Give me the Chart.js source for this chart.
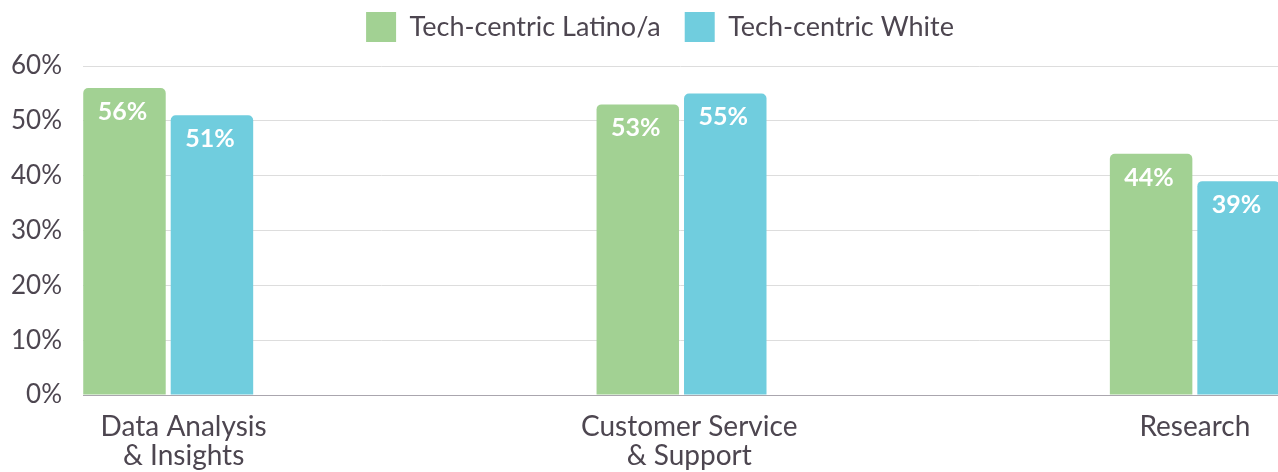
<!DOCTYPE html>
<html>
<head>
<meta charset="utf-8">
<script src="https://cdn.jsdelivr.net/npm/chart.js@4"></script>
<style>
  html, body { margin: 0; padding: 0; background: #fff; }
  #chart-outer { position: relative; width: 1278px; height: 472px; }
</style>
</head>
<body>
<div id="chart-outer"><canvas id="chart-area"></canvas></div>
<script>
const categories = [['Data Analysis', '& Insights'], ['Customer Service', '& Support'], ['Research']];
const latinoValues = [56, 53, 44];
const whiteValues = [51, 55, 39];
const seriesNames = ['Tech-centric Latino/a', 'Tech-centric White'];
const yTicks = [0, 10, 20, 30, 40, 50, 60];

const textColor = '#4d4650';
const fontFamily = 'Lato, "Noto Sans", sans-serif';

function toPoints(values){ // 선형 x축용 포인트
	return values.map((v, i) => ({x: i, y: v}));
}

// 막대 위 값 라벨
const barValueLabels = {
	id: 'barValueLabels',
	afterDatasetsDraw(chart){
		const ctx = chart.ctx;
		ctx.save();
		ctx.fillStyle = '#ffffff';
		ctx.font = 'bold 25px ' + fontFamily;
		ctx.textAlign = 'center';
		ctx.textBaseline = 'middle';
		chart.data.datasets.forEach((ds, di) => {
			chart.getDatasetMeta(di).data.forEach((bar, i) => {
				ctx.fillText(ds.data[i].y + '%', bar.x - 2, bar.y + 24);
			});
		});
		ctx.restore();
	}
};

// 범례 위치 보정
const legendShift = {
	id: 'legendShift',
	afterLayout(chart){
		const lg = chart.legend;
		if (lg) {
			lg.left += 21;
			lg.right += 21;
			lg.top -= 14;
			lg.bottom -= 14;
		}
	}
};

const chart = new Chart(document.getElementById('chart-area'), {
	type: 'bar',
	data: {
		datasets: [
			{
				label: seriesNames[0],
				data: toPoints(latinoValues),
				backgroundColor: '#a2d193',
				borderRadius: 5,
				borderSkipped: 'start'
			},
			{
				label: seriesNames[1],
				data: toPoints(whiteValues),
				backgroundColor: '#70cdde',
				borderRadius: 5,
				borderSkipped: 'start'
			}
		]
	},
	plugins: [barValueLabels, legendShift],
	options: {
		responsive: true,
		maintainAspectRatio: false,
		animation: false,
		categoryPercentage: 0.346,
		barPercentage: 0.943,
		layout: { padding: { top: -12, right: 0, left: 0, bottom: 0 } },
		plugins: {
			legend: {
				position: 'top',
				labels: {
					boxWidth: 30,
					boxHeight: 30,
					padding: 24,
					color: textColor,
					font: { family: fontFamily, size: 27 }
				}
			},
			tooltip: { enabled: false }
		},
		scales: {
			x: {
				type: 'linear',
				offset: false,
				min: -0.166,
				max: 2.162,
				afterBuildTicks(scale){
					scale.ticks = [{value: 0.03}, {value: 1.015}, {value: 2}];
				},
				afterFit(scale){
					scale.height = 77;
				},
				grid: { display: false },
				border: { display: true, color: '#aaa6ae', width: 1 },
				ticks: {
					autoSkip: false,
					maxRotation: 0,
					padding: 10,
					color: textColor,
					font: { family: fontFamily, size: 28, lineHeight: 1.03 },
					callback: (value, index) => categories[index]
				}
			},
			y: {
				min: 0,
				max: 60,
				afterBuildTicks(scale){
					scale.ticks = yTicks.map(v => ({value: v}));
				},
				afterFit(scale){
					scale.width = 83;
					scale.paddingTop = 66;
				},
				grid: { color: '#dddddd', drawTicks: false },
				border: { display: false },
				ticks: {
					padding: 21,
					color: textColor,
					font: { family: fontFamily, size: 26 },
					callback: v => v + '%'
				}
			}
		}
	}
});
</script>
</body>
</html>
